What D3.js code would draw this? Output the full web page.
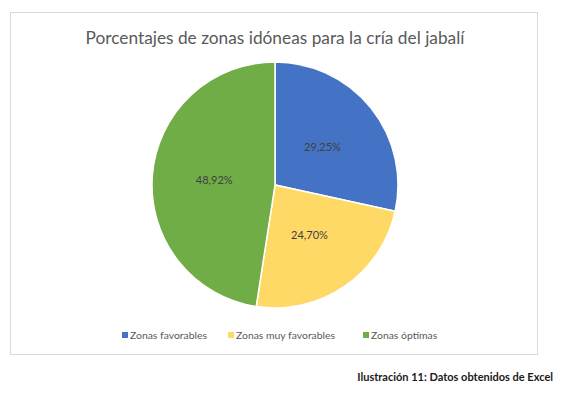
<!DOCTYPE html>
<html>
<head>
<meta charset="utf-8">
<script src="https://cdn.jsdelivr.net/npm/d3@7"></script>
<style>
  body { margin: 0; background: #fff; }
  text { font-family: Lato, "Open Sans", sans-serif; }
</style>
</head>
<body>
<script>
const categories = ["Zonas favorables", "Zonas muy favorables", "Zonas óptimas"];
const values = [29.25, 24.70, 48.92];
const labels = ["29,25%", "24,70%", "48,92%"];
const colors = ["#4472C4", "#FFD966", "#70AD47"];

const width = 565, height = 395;
const cx = 275, cy = 185, radius = 123;

const svg = d3.select("body").append("svg")
    .attr("width", width)
    .attr("height", height);

// chart frame
svg.append("rect")
    .attr("x", 10.5).attr("y", 12.5)
    .attr("width", 527).attr("height", 342)
    .attr("fill", "#fff")
    .attr("stroke", "#d9d9d9");

// title
svg.append("text")
    .attr("x", 275).attr("y", 44)
    .attr("text-anchor", "middle")
    .attr("fill", "#595959")
    .style("font-size", "17.3px")
    .text("Porcentajes de zonas idóneas para la cría del jabalí");

const data = categories.map((c, i) => ({ name: c, value: values[i], label: labels[i], color: colors[i] }));

const pie = d3.pie().sort(null).value(d => d.value);
const arc = d3.arc().innerRadius(0).outerRadius(radius);
const labelArc = d3.arc().innerRadius(61).outerRadius(61);

const g = svg.append("g").attr("transform", `translate(${cx}, ${cy})`);

g.selectAll("path")
  .data(pie(data))
  .enter()
  .append("path")
    .attr("d", arc)
    .attr("fill", d => d.data.color)
    .attr("stroke", "#fff")
    .attr("stroke-width", 1.5);

g.selectAll("text")
  .data(pie(data))
  .enter()
  .append("text")
    .attr("transform", d => `translate(${labelArc.centroid(d)})`)
    .attr("text-anchor", "middle")
    .attr("dy", "0.35em")
    .attr("fill", "#404040")
    .style("font-size", "11px")
    .text(d => d.data.label);

// legend
const legendX = [122, 228, 363];
const legend = svg.append("g").attr("transform", "translate(0, 335)");
const item = legend.selectAll("g")
  .data(data)
  .enter()
  .append("g")
    .attr("transform", (d, i) => `translate(${legendX[i]}, 0)`);

item.append("rect")
    .attr("x", 0).attr("y", -3)
    .attr("width", 6).attr("height", 6)
    .attr("fill", d => d.color);

item.append("text")
    .attr("x", 8)
    .attr("dy", "0.35em")
    .attr("fill", "#595959")
    .style("font-size", "10.4px")
    .text(d => d.name);

// caption
svg.append("text")
    .attr("x", 553).attr("y", 381)
    .attr("text-anchor", "end")
    .attr("fill", "#1a1a1a")
    .style("font-size", "11px")
    .style("font-weight", "bold")
    .text("Ilustración 11: Datos obtenidos de Excel");
</script>
</body>
</html>
